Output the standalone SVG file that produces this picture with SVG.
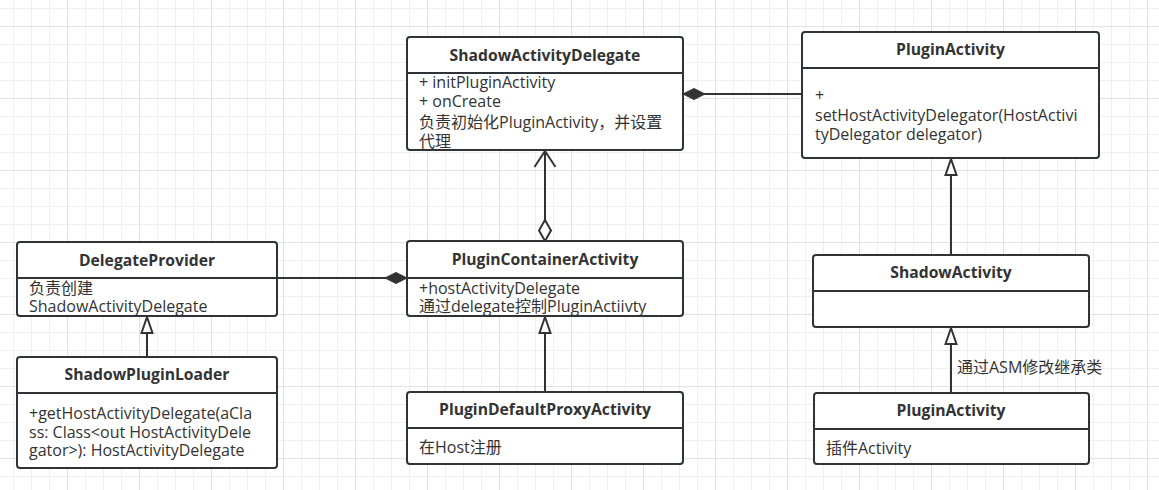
<svg xmlns="http://www.w3.org/2000/svg" width="1159" height="490" viewBox="0 0 1159 490">
<style>
.box{fill:#ffffff;stroke:#2f3236;stroke-width:2}
.sep{stroke:#2f3236;stroke-width:2}
.ttl{font-family:"Open Sans","Noto Sans CJK SC",sans-serif;font-size:15.7px;font-weight:bold;fill:#333333;text-anchor:middle}
.txt{font-family:"Open Sans","Noto Sans CJK SC",sans-serif;font-size:16px;fill:#333333}
.edge{fill:none;stroke:#333333;stroke-width:2}
</style>
<defs>
<pattern id="grid" patternUnits="userSpaceOnUse" x="-5" y="-46" width="72" height="72">
<rect x="0" y="0" width="72" height="72" fill="#ffffff"/>
<rect x="18" y="0" width="1" height="72" fill="#f0f0f0"/>
<rect x="36" y="0" width="1" height="72" fill="#f0f0f0"/>
<rect x="54" y="0" width="1" height="72" fill="#f0f0f0"/>
<rect x="0" y="18" width="72" height="1" fill="#f0f0f0"/>
<rect x="0" y="36" width="72" height="1" fill="#f0f0f0"/>
<rect x="0" y="54" width="72" height="1" fill="#f0f0f0"/>
<rect x="0" y="0" width="1" height="72" fill="#e2e2e2"/>
<rect x="0" y="0" width="72" height="1" fill="#e2e2e2"/>
</pattern>
<marker id="tri" markerUnits="userSpaceOnUse" viewBox="-2 -2 20 16" refX="16" refY="6" markerWidth="20" markerHeight="16" orient="auto-start-reverse" overflow="visible">
<path d="M0,0.5 L16,6 L0,11.5 Z" fill="#ffffff" stroke="#333333" stroke-width="2"/>
</marker>
<marker id="dfill" markerUnits="userSpaceOnUse" viewBox="-2 -2 26 16" refX="22" refY="6" markerWidth="26" markerHeight="16" orient="auto-start-reverse" overflow="visible">
<path d="M0,6 L11,0.5 L22,6 L11,11.5 Z" fill="#333333" stroke="#333333" stroke-width="1"/>
</marker>
<marker id="dopen" markerUnits="userSpaceOnUse" viewBox="-2 -2 25 16" refX="21" refY="6" markerWidth="25" markerHeight="16" orient="auto-start-reverse" overflow="visible">
<path d="M0,6 L10.5,0 L21,6 L10.5,12 Z" fill="#ffffff" stroke="#333333" stroke-width="2"/>
</marker>
<marker id="aopen" markerUnits="userSpaceOnUse" viewBox="-2 -2 20 25" refX="16" refY="10.5" markerWidth="20" markerHeight="25" orient="auto-start-reverse" overflow="visible">
<path d="M0,0 L16,10.5 L0,21" fill="none" stroke="#333333" stroke-width="2"/>
</marker>
</defs>
<rect x="0" y="0" width="1159" height="490" fill="url(#grid)"/>

<g id="connectors">
<path class="edge" d="M802,94 L683,94" marker-end="url(#dfill)"/>
<path class="edge" d="M545,241 L545,151" marker-start="url(#dopen)" marker-end="url(#aopen)"/>
<path class="edge" d="M277,278 L407,278" marker-end="url(#dfill)"/>
<path class="edge" d="M147,357 L147,317" marker-end="url(#tri)"/>
<path class="edge" d="M545,392 L545,317" marker-end="url(#tri)"/>
<path class="edge" d="M951,255 L951,159" marker-end="url(#tri)"/>
<path class="edge" d="M951,393 L951,328" marker-end="url(#tri)"/>
<text class="txt" x="957" y="373">通过ASM修改继承类</text>
</g>

<g id="ShadowActivityDelegate">
<rect class="box" x="407" y="37" width="276" height="113" rx="3"/>
<line class="sep" x1="407" y1="73" x2="683" y2="73"/>
<text class="ttl" x="545" y="61">ShadowActivityDelegate</text>
<text class="txt" x="419" y="88">+ initPluginActivity</text>
<text class="txt" x="419" y="107">+ onCreate</text>
<text class="txt" x="419" y="128">负责初始化PluginActivity，并设置</text>
<text class="txt" x="419" y="147">代理</text>
</g>

<g id="PluginActivityTop">
<rect class="box" x="802" y="32" width="297" height="126" rx="3"/>
<line class="sep" x1="802" y1="68" x2="1099" y2="68"/>
<text class="ttl" x="950.5" y="55">PluginActivity</text>
<text class="txt" x="815" y="101">+</text>
<text class="txt" x="815" y="121">setHostActivityDelegator(HostActivi</text>
<text class="txt" x="815" y="140">tyDelegator delegator)</text>
</g>

<g id="DelegateProvider">
<rect class="box" x="17" y="242" width="260" height="74" rx="3"/>
<line class="sep" x1="17" y1="278" x2="277" y2="278"/>
<text class="ttl" x="147" y="266">DelegateProvider</text>
<text class="txt" x="29" y="294">负责创建</text>
<text class="txt" x="29" y="312">ShadowActivityDelegate</text>
</g>

<g id="PluginContainerActivity">
<rect class="box" x="407" y="241" width="276" height="75" rx="3"/>
<line class="sep" x1="407" y1="278" x2="683" y2="278"/>
<text class="ttl" x="545" y="265">PluginContainerActivity</text>
<text class="txt" x="419" y="294">+hostActivityDelegate</text>
<text class="txt" x="419" y="312">通过delegate控制PluginActiivty</text>
</g>

<g id="ShadowPluginLoader">
<rect class="box" x="17" y="357" width="260" height="111" rx="3"/>
<line class="sep" x1="17" y1="393" x2="277" y2="393"/>
<text class="ttl" x="147" y="380">ShadowPluginLoader</text>
<text class="txt" x="29" y="419">+getHostActivityDelegate(aCla</text>
<text class="txt" x="29" y="438">ss: Class&lt;out HostActivityDele</text>
<text class="txt" x="29" y="456">gator&gt;): HostActivityDelegate</text>
</g>

<g id="PluginDefaultProxyActivity">
<rect class="box" x="407" y="392" width="276" height="72" rx="3"/>
<line class="sep" x1="407" y1="428" x2="683" y2="428"/>
<text class="ttl" x="545" y="415">PluginDefaultProxyActivity</text>
<text class="txt" x="419" y="453">在Host注册</text>
</g>

<g id="ShadowActivity">
<rect class="box" x="813" y="255" width="276" height="72" rx="3"/>
<line class="sep" x1="813" y1="291" x2="1089" y2="291"/>
<text class="ttl" x="951" y="278">ShadowActivity</text>
</g>

<g id="PluginActivityBottom">
<rect class="box" x="814" y="393" width="275" height="71" rx="3"/>
<line class="sep" x1="814" y1="429" x2="1089" y2="429"/>
<text class="ttl" x="951" y="416">PluginActivity</text>
<text class="txt" x="826" y="454">插件Activity</text>
</g>
</svg>
